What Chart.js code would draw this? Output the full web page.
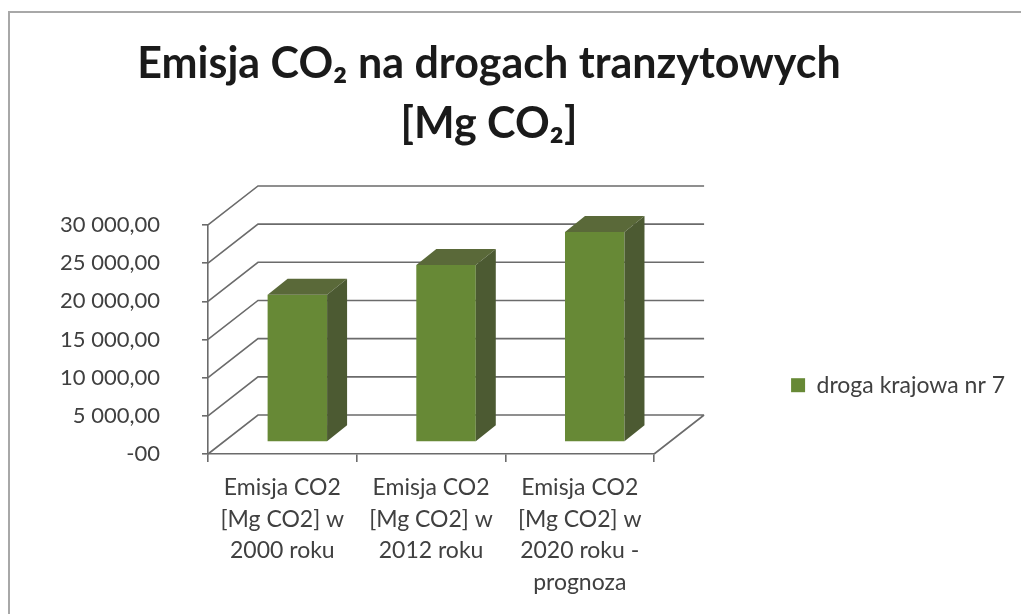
<!DOCTYPE html>
<html>
<head>
<meta charset="utf-8">
<title>Emisja CO2 na drogach tranzytowych</title>
<script src="https://cdn.jsdelivr.net/npm/chart.js@4.4.1/dist/chart.umd.min.js"></script>
<style>
  html, body { margin: 0; padding: 0; background: #fff; }
  canvas { display: block; }
</style>
</head>
<body>
<canvas id="co2Chart" width="1021" height="614"></canvas>
<script>
// data
var categories = [
  ['Emisja CO2', '[Mg CO2] w', '2000 roku'],
  ['Emisja CO2', '[Mg CO2] w', '2012 roku'],
  ['Emisja CO2', '[Mg CO2] w', '2020 roku -', 'prognoza']
];
var seriesName = 'droga krajowa nr 7';
var emissions = [19300, 23200, 27500];
var yTicks = [0, 5000, 10000, 15000, 20000, 25000, 30000];
var yTickLabels = ['-00', '5 000,00', '10 000,00', '15 000,00', '20 000,00', '25 000,00', '30 000,00'];
var titleLines = ['Emisja CO\u2082 na drogach tranzytowych', '[Mg CO\u2082]'];

// fake 3d look (Excel 3-D column)
var depth = { x: 50, y: -39 };      // front plane -> back wall
var barShift = { x: 15, y: -12 };   // front plane -> bar front face
var barDepth = { x: 20, y: -16 };   // bar front face -> bar back face
var gridColor = '#6b6b6b';
var barFront = '#678936';
var barTop = '#5a6939';
var barSide = '#4c5a32';

Chart.defaults.font.family = 'Lato';
Chart.defaults.color = '#404040';

var box3d = {
  id: 'box3d',
  beforeDraw: function (chart) {
    var ctx = chart.ctx;
    ctx.save();
    ctx.strokeStyle = '#a8a8a8';
    ctx.lineWidth = 2;
    ctx.beginPath();
    ctx.moveTo(9, chart.height);
    ctx.lineTo(9, 12);
    ctx.lineTo(chart.width, 12);
    ctx.stroke();
    ctx.restore();
  },
  beforeDatasetsDraw: function (chart) {
    var ctx = chart.ctx, a = chart.chartArea, y = chart.scales.y;
    ctx.save();
    ctx.strokeStyle = gridColor;
    ctx.lineWidth = 1.6;
    ctx.beginPath();
    y.ticks.forEach(function (t) {
      var py = y.getPixelForValue(t.value);
      ctx.moveTo(a.left, py);
      ctx.lineTo(a.left + depth.x, py + depth.y);
      ctx.lineTo(a.right + depth.x, py + depth.y);
    });
    var p0 = y.getPixelForValue(0);
    ctx.moveTo(a.right, p0);
    ctx.lineTo(a.right + depth.x, p0 + depth.y);
    ctx.stroke();
    ctx.restore();
    // bars sit a bit behind the front plane
    ctx.save();
    ctx.translate(barShift.x, barShift.y);
  },
  afterDatasetsDraw: function (chart) {
    var ctx = chart.ctx;
    chart.getDatasetMeta(0).data.forEach(function (bar) {
      var p = bar.getProps(['x', 'y', 'base', 'width'], true);
      var l = p.x - p.width / 2, r = p.x + p.width / 2;
      ctx.fillStyle = barTop;
      ctx.beginPath();
      ctx.moveTo(l, p.y);
      ctx.lineTo(r, p.y);
      ctx.lineTo(r + barDepth.x, p.y + barDepth.y);
      ctx.lineTo(l + barDepth.x, p.y + barDepth.y);
      ctx.closePath();
      ctx.fill();
      ctx.fillStyle = barSide;
      ctx.beginPath();
      ctx.moveTo(r, p.y);
      ctx.lineTo(r + barDepth.x, p.y + barDepth.y);
      ctx.lineTo(r + barDepth.x, p.base + barDepth.y);
      ctx.lineTo(r, p.base);
      ctx.closePath();
      ctx.fill();
    });
    ctx.restore();
  }
};

new Chart(document.getElementById('co2Chart'), {
  type: 'bar',
  data: {
    labels: categories,
    datasets: [{
      label: seriesName,
      data: emissions,
      backgroundColor: barFront,
      borderWidth: 0,
      barPercentage: 0.4,
      categoryPercentage: 1.0,
      clip: false
    }]
  },
  options: {
    responsive: false,
    animation: false,
    // negative left padding shifts the full-width title to the left like the original
    layout: { padding: { left: -37, right: 6, top: 0, bottom: 0 } },
    plugins: {
      title: {
        display: true,
        text: titleLines,
        color: '#1a1a1a',
        font: { size: 43, weight: 'bold', lineHeight: 1.395 },
        padding: { top: 34, bottom: 71 }
      },
      legend: {
        position: 'right',
        maxWidth: 362,
        // empty legend title only pushes the entry down
        title: { display: true, text: ' ', padding: { top: 0, bottom: 130 }, font: { size: 22 } },
        labels: { boxWidth: 14, boxHeight: 14, padding: 137, color: '#404040', font: { size: 23 } }
      },
      tooltip: { enabled: false }
    },
    scales: {
      x: {
        afterFit: function (s) { s.height = 160; },
        grid: { drawOnChartArea: false, tickLength: 8, color: gridColor, lineWidth: 1.6 },
        border: { color: gridColor, width: 1.6 },
        ticks: { autoSkip: false, maxRotation: 0, padding: 10, color: '#404040', font: { size: 23, lineHeight: 1.37 } }
      },
      y: {
        min: 0,
        max: 30000,
        afterFit: function (s) { s.width = 245; },
        grid: { drawOnChartArea: false, tickLength: 6, color: gridColor, lineWidth: 1.6 },
        border: { color: gridColor, width: 1.6 },
        ticks: {
          stepSize: 5000,
          padding: 42,
          color: '#404040',
          font: { size: 22 },
          callback: function (v) { return yTickLabels[yTicks.indexOf(v)]; }
        }
      }
    }
  },
  plugins: [box3d]
});
</script>
</body>
</html>
